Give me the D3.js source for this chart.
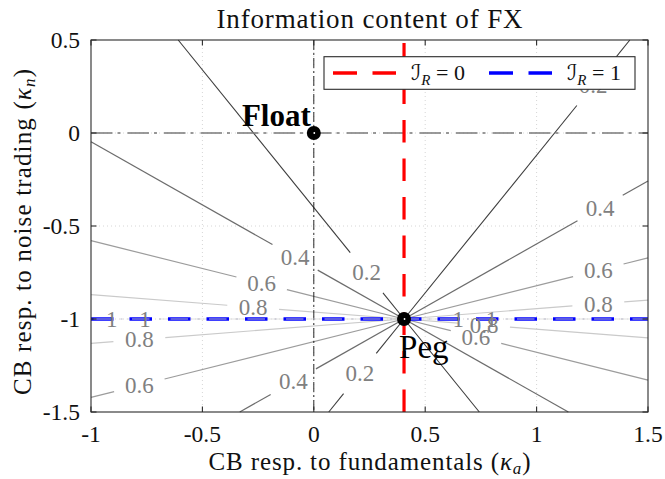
<!DOCTYPE html>
<html><head><meta charset="utf-8">
<script src="https://cdn.jsdelivr.net/npm/d3@7"></script>
<style>
body{margin:0;background:#fff;}
svg, svg text{font-family:"Liberation Serif","Times New Roman",serif;}
svg{display:block;}
</style>
</head><body><svg id="c" width="665" height="479" font-family="Liberation Serif"></svg>
<script>
// ---------- data ----------
const xTicks = [-1, -0.5, 0, 0.5, 1, 1.5];
const xTickLabels = ["-1", "-0.5", "0", "0.5", "1", "1.5"];
const yTicks = [-1.5, -1, -0.5, 0, 0.5];
const yTickLabels = ["-1.5", "-1", "-0.5", "0", "0.5"];
const contourLevels = [0.2, 0.4, 0.6, 0.8, 1];
const contourSlopes = [1.48, 0.678, 0.30, 0.093, 0];   // |d kappa_n / d kappa_a| of each iso-line through Peg
const pegPoint = [0.405, -1];
const floatPoint = [0, 0];
const labelLevels = [0.2, 0.2, 0.2, 0.4, 0.4, 0.4, 0.6, 0.6, 0.6, 0.6, 0.8, 0.8, 0.8, 0.8, 1, 1, 1, 1];
const labelKa     = [0.237, 1.254, 0.207, -0.084, 1.285, -0.092, -0.234, 1.277, -0.783, 0.728, -0.272, 1.277, -0.783, 0.764, -0.907, -0.758, 0.648, 0.798];
const labelBranch = [1, 1, -1, 1, 1, -1, 1, 1, -1, -1, 1, 1, -1, -1, 0, 0, 0, 0];
const legendValues = [0, 1];
const pointNames = ["Float", "Peg"];

// ---------- styles ----------
const SERIF = "Liberation Serif";
const levelColors = ["#3c3c3c", "#6c6c6c", "#9c9c9c", "#cacaca", "#e2e2e2"];
const levelWidths = [1.1, 1.2, 1.2, 1.2, 1.2];
const legendColors = ["#ff0000", "#0000ff"];

const svg = d3.select("#c");
const x = d3.scaleLinear().domain([-1, 1.5]).range([91, 648]);
const y = d3.scaleLinear().domain([-1.5, 0.5]).range([412, 40]);
const [X0, X1] = x.range(), [Y0, Y1] = [y.range()[1], y.range()[0]];

// grid
const grid = svg.append("g").attr("stroke", "#d6d6d6").attr("stroke-width", 1).attr("stroke-dasharray", "1,3");
grid.selectAll("line.gx").data(xTicks.slice(1, -1)).join("line")
  .attr("x1", d => x(d)).attr("x2", d => x(d)).attr("y1", Y0).attr("y2", Y1);
grid.selectAll("line.gy").data(yTicks.slice(1, -1)).join("line")
  .attr("y1", d => y(d)).attr("y2", d => y(d)).attr("x1", X0).attr("x2", X1);

// ---------- contour rays ----------
const [pa, pn] = pegPoint;
const fs = 23;
const segs = [];
const labels = labelLevels.map((lv, i) => {
  const li = contourLevels.indexOf(lv);
  const kn = pn + labelBranch[i] * contourSlopes[li] * Math.abs(labelKa[i] - pa);
  return {lv, li, ka: labelKa[i], kn, sx: Math.sign(labelKa[i] - pa), sy: labelBranch[i],
          text: lv === 1 ? "1" : String(lv), r: lv === 1 ? 15 : 26};
});
contourLevels.forEach((lv, li) => {
  const s = contourSlopes[li];
  const sys = s === 0 ? [0] : [1, -1];
  [-1, 1].forEach(sx => sys.forEach(sy => {
    const tx = sx > 0 ? (1.5 - pa) : (pa + 1);
    const ty = s === 0 ? Infinity : (sy > 0 ? (0.5 - pn) : (pn + 1.5)) / s;
    const t = Math.min(tx, ty);
    const ea = pa + sx * t, en = pn + sy * s * t;
    const px0 = x(pa), py0 = y(pn), px1 = x(ea), py1 = y(en);
    const L = Math.hypot(px1 - px0, py1 - py0);
    const gaps = labels.filter(l => l.li === li && l.sx === sx && (s === 0 || l.sy === sy))
      .map(l => { const d = Math.hypot(x(l.ka) - px0, y(l.kn) - py0); return [d - l.r, d + l.r]; })
      .sort((a, b) => a[0] - b[0]);
    let cur = 0;
    const pieces = [];
    gaps.forEach(g => { if (g[0] > cur) pieces.push([cur, g[0]]); cur = Math.max(cur, g[1]); });
    if (cur < L) pieces.push([cur, L]);
    pieces.forEach(p => segs.push({li,
      x1: px0 + (px1 - px0) * p[0] / L, y1: py0 + (py1 - py0) * p[0] / L,
      x2: px0 + (px1 - px0) * Math.min(p[1], L) / L, y2: py0 + (py1 - py0) * Math.min(p[1], L) / L}));
  }));
});
svg.append("g").selectAll("line").data(segs.sort((a, b) => b.li - a.li)).join("line")
  .attr("x1", d => d.x1).attr("y1", d => d.y1).attr("x2", d => d.x2).attr("y2", d => d.y2)
  .attr("stroke", d => levelColors[d.li]).attr("stroke-width", d => levelWidths[d.li]);

// reference lines
svg.append("line").attr("x1", x(0)).attr("x2", x(0)).attr("y1", Y0).attr("y2", Y1)
  .attr("stroke", "#111").attr("stroke-width", 0.9).attr("stroke-dasharray", "10,3,2,3");
svg.append("line").attr("x1", X0).attr("x2", X1).attr("y1", y(0)).attr("y2", y(0))
  .attr("stroke", "#7a7a7a").attr("stroke-width", 1.6).attr("stroke-dasharray", "21.5,5,3,7");
svg.append("line").attr("x1", x(pa)).attr("x2", x(pa)).attr("y1", Y1).attr("y2", Y0)
  .attr("stroke", legendColors[0]).attr("stroke-width", 3.2).attr("stroke-dasharray", "22.5,16");
svg.append("line").attr("x1", X0).attr("x2", X1).attr("y1", y(pn)).attr("y2", y(pn))
  .attr("stroke", legendColors[1]).attr("stroke-width", 3.6).attr("stroke-dasharray", "22.5,16");
svg.append("line").attr("x1", X0).attr("x2", X1).attr("y1", y(pn)).attr("y2", y(pn))
  .attr("stroke", "#b8b8c8").attr("stroke-width", 1.1).attr("stroke-dasharray", "17.5,9.5,2,9.5")
  .attr("stroke-dashoffset", -2.5);

// contour labels
svg.append("g").attr("font-family", SERIF).attr("font-size", fs).attr("fill", "#808080").attr("text-anchor", "middle")
  .selectAll("text").data(labels).join("text")
  .attr("x", d => x(d.ka)).attr("y", d => y(d.kn) + fs * 0.33).text(d => d.text);

// points
const pts = [floatPoint, pegPoint];
svg.append("g").selectAll("circle").data(pts).join("circle")
  .attr("cx", d => x(d[0])).attr("cy", d => y(d[1])).attr("r", 7).attr("fill", "#000");
svg.append("g").selectAll("circle").data(pts).join("circle")
  .attr("cx", d => x(d[0]) + 0.5).attr("cy", d => y(d[1])).attr("r", 0.9).attr("fill", "#fff");
svg.append("text").attr("font-family", SERIF).attr("x", x(floatPoint[0]) - 3).attr("y", y(floatPoint[1]) - 7)
  .attr("text-anchor", "end").attr("font-weight", "bold").attr("font-size", 31).text(pointNames[0]);
svg.append("text").attr("font-family", SERIF).attr("x", x(pegPoint[0]) - 5).attr("y", y(pegPoint[1]) + 39)
  .attr("font-size", 33).text(pointNames[1]);

// frame + ticks
const fr = svg.append("g").attr("stroke", "#2b2b2b").attr("stroke-width", 1.1).attr("fill", "none");
fr.append("rect").attr("x", X0).attr("y", Y0).attr("width", X1 - X0).attr("height", Y1 - Y0);
const tl = 5.5;
fr.selectAll("line.tx").data(xTicks).join("line").attr("class", "tx")
  .attr("x1", d => x(d)).attr("x2", d => x(d)).attr("y1", Y1).attr("y2", Y1 - tl);
fr.selectAll("line.tx2").data(xTicks).join("line").attr("class", "tx2")
  .attr("x1", d => x(d)).attr("x2", d => x(d)).attr("y1", Y0).attr("y2", Y0 + tl);
fr.selectAll("line.ty").data(yTicks).join("line").attr("class", "ty")
  .attr("y1", d => y(d)).attr("y2", d => y(d)).attr("x1", X0).attr("x2", X0 + tl);
fr.selectAll("line.ty2").data(yTicks).join("line").attr("class", "ty2")
  .attr("y1", d => y(d)).attr("y2", d => y(d)).attr("x1", X1).attr("x2", X1 - tl);

// tick labels
svg.append("g").attr("font-family", SERIF).attr("font-size", 23.5).attr("text-anchor", "middle").attr("fill", "#111")
  .selectAll("text").data(xTicks).join("text")
  .attr("x", d => x(d)).attr("y", 442).text((d, i) => xTickLabels[i]);
svg.append("g").attr("font-family", SERIF).attr("font-size", 23.5).attr("text-anchor", "end").attr("fill", "#111")
  .selectAll("text").data(yTicks).join("text")
  .attr("x", 80).attr("y", d => y(d) + 7.8).text((d, i) => yTickLabels[i]);

// legend
const lg = svg.append("g");
lg.append("rect").attr("x", 324).attr("y", 56.7).attr("width", 311).attr("height", 32.6)
  .attr("fill", "#fff").attr("stroke", "#2b2b2b").attr("stroke-width", 1.1);
const lgX = [333, 489];
legendValues.forEach((v, i) => {
  lg.append("line").attr("x1", lgX[i]).attr("x2", lgX[i] + 63).attr("y1", 73).attr("y2", 73)
    .attr("stroke", legendColors[i]).attr("stroke-width", 3.4).attr("stroke-dasharray", "24,15.5");
  const t = lg.append("text").attr("font-family", SERIF).attr("x", lgX[i] + 78).attr("y", 80).attr("font-size", 22).attr("fill", "#111");
  t.append("tspan").attr("font-family", "DejaVu Serif, DejaVu Sans, serif").attr("font-style", "italic").text("ℐ");
  t.append("tspan").attr("font-size", 15).attr("font-style", "italic").attr("dy", 5).text("R");
  t.append("tspan").attr("dy", -5).text(" = " + v);
});

// title & axis labels
svg.append("text").attr("font-family", SERIF).attr("x", (X0 + X1) / 2).attr("y", 28).attr("text-anchor", "middle")
  .attr("font-size", 27).attr("fill", "#111").attr("textLength", 306).attr("lengthAdjust", "spacing")
  .text("Information content of FX");
const xl = svg.append("text").attr("font-family", SERIF).attr("x", (X0 + X1) / 2).attr("y", 470).attr("text-anchor", "middle")
  .attr("font-size", 25).attr("fill", "#111").attr("textLength", 322).attr("lengthAdjust", "spacing");
xl.append("tspan").text("CB resp. to fundamentals (");
xl.append("tspan").attr("font-style", "italic").text("κ");
xl.append("tspan").attr("font-style", "italic").attr("font-size", 17).attr("dy", 4).text("a");
xl.append("tspan").attr("dy", -4).text(")");
const yl = svg.append("text").attr("font-family", SERIF).attr("transform", "translate(31,232) rotate(-90)").attr("text-anchor", "middle")
  .attr("font-size", 25).attr("fill", "#111").attr("textLength", 326).attr("lengthAdjust", "spacing");
yl.append("tspan").text("CB resp. to noise trading (");
yl.append("tspan").attr("font-style", "italic").text("κ");
yl.append("tspan").attr("font-style", "italic").attr("font-size", 17).attr("dy", 4).text("n");
yl.append("tspan").attr("dy", -4).text(")");
</script>
</body></html>
